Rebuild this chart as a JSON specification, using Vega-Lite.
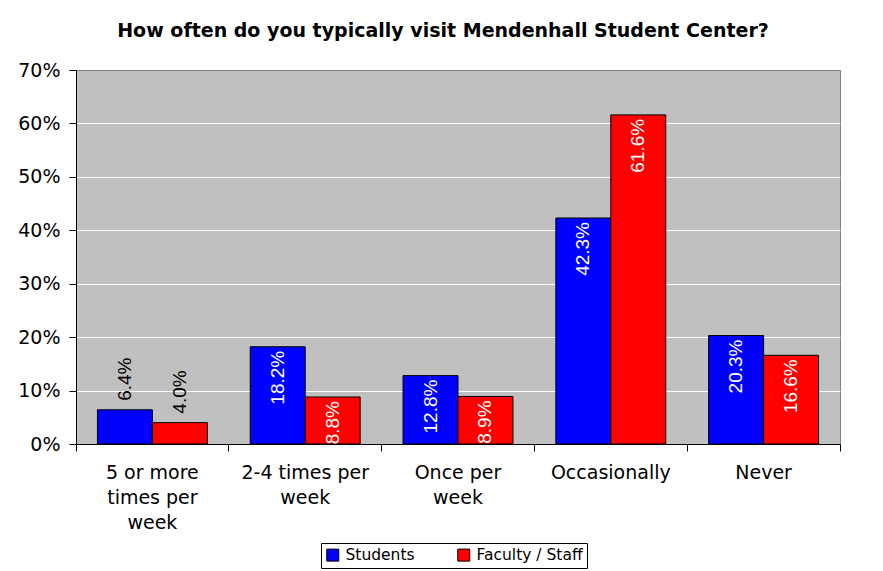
{
  "$schema": "https://vega.github.io/schema/vega-lite/v6.json",
  "width": 764,
  "height": 374,
  "autosize": {"type": "none"},
  "padding": {"left": 76, "top": 70, "right": 43, "bottom": 127},
  "background": "white",
  "title": {
    "text": "How often do you typically visit Mendenhall Student Center?",
    "fontSize": 19,
    "fontWeight": "bold",
    "font": "DejaVu Sans",
    "color": "black",
    "offset": 20,
    "dx": -15
  },
  "data": {
    "values": [
      {"frequency": "5 or more times per week", "group": "Students", "share": 0.064},
      {"frequency": "5 or more times per week", "group": "Faculty / Staff", "share": 0.040},
      {"frequency": "2-4 times per week", "group": "Students", "share": 0.182},
      {"frequency": "2-4 times per week", "group": "Faculty / Staff", "share": 0.088},
      {"frequency": "Once per week", "group": "Students", "share": 0.128},
      {"frequency": "Once per week", "group": "Faculty / Staff", "share": 0.089},
      {"frequency": "Occasionally", "group": "Students", "share": 0.423},
      {"frequency": "Occasionally", "group": "Faculty / Staff", "share": 0.616},
      {"frequency": "Never", "group": "Students", "share": 0.203},
      {"frequency": "Never", "group": "Faculty / Staff", "share": 0.166}
    ]
  },
  "encoding": {
    "x": {
      "field": "frequency",
      "type": "nominal",
      "sort": null,
      "scale": {"paddingInner": 0, "paddingOuter": 0},
      "axis": {
        "title": null,
        "bandPosition": 1,
        "tickExtra": true,
        "ticks": true,
        "tickSize": 7,
        "tickColor": "black",
        "domainColor": "black",
        "labelPadding": 12,
        "labelFontSize": 19,
        "labelFont": "DejaVu Sans",
        "labelColor": "black",
        "labelAngle": 0,
        "labelAlign": "center",
        "labelBaseline": "top",
        "labelLineHeight": 25,
        "labelBound": false,
        "labelOverlap": false,
        "labelFlush": false,
        "labelLimit": 300,
        "labelExpr": "datum.value == '5 or more times per week' ? ['5 or more', 'times per', 'week'] : datum.value == '2-4 times per week' ? ['2-4 times per', 'week'] : datum.value == 'Once per week' ? ['Once per', 'week'] : datum.label"
      }
    },
    "xOffset": {
      "field": "group",
      "type": "nominal",
      "sort": ["Students", "Faculty / Staff"],
      "scale": {"paddingInner": 0, "paddingOuter": 0.39}
    },
    "y": {
      "field": "share",
      "type": "quantitative",
      "scale": {"domain": [0, 0.7], "nice": false},
      "axis": {
        "title": null,
        "format": ".0%",
        "values": [0, 0.1, 0.2, 0.3, 0.4, 0.5, 0.6, 0.7],
        "grid": true,
        "gridColor": {"condition": {"test": "datum.value >= 0.69", "value": "#808080"}, "value": "white"},
        "gridWidth": 1,
        "gridOpacity": 1,
        "domainColor": "black",
        "tickColor": "black",
        "tickSize": 7,
        "labelPadding": 9,
        "labelFontSize": 19,
        "labelFont": "DejaVu Sans",
        "labelColor": "black"
      }
    }
  },
  "layer": [
    {
      "mark": {"type": "bar", "stroke": "black", "strokeWidth": 1},
      "encoding": {
        "color": {
          "field": "group",
          "type": "nominal",
          "scale": {"domain": ["Students", "Faculty / Staff"], "range": ["#0000FF", "#FF0000"]},
          "legend": {
            "title": null,
            "orient": "none",
            "legendX": 245,
            "legendY": 473,
            "direction": "horizontal",
            "strokeColor": "black",
            "fillColor": "white",
            "padding": 4,
            "columnPadding": 40,
            "labelOffset": 5,
            "symbolType": "square",
            "symbolSize": 144,
            "symbolStrokeColor": "black",
            "symbolStrokeWidth": 1,
            "labelFont": "DejaVu Sans",
            "labelFontSize": 15.5,
            "labelColor": "black"
          }
        }
      }
    },
    {
      "transform": [{"filter": "datum.share > 0.08"}],
      "mark": {"type": "text", "angle": 270, "align": "right", "baseline": "middle", "dx": -4, "color": "white", "fontSize": 19, "font": "Liberation Sans"},
      "encoding": {"text": {"field": "share", "type": "quantitative", "format": ".1%"}}
    },
    {
      "transform": [{"filter": "datum.share <= 0.08"}],
      "mark": {"type": "text", "angle": 270, "align": "left", "baseline": "middle", "dx": 9, "color": "black", "fontSize": 19, "font": "Liberation Sans"},
      "encoding": {"text": {"field": "share", "type": "quantitative", "format": ".1%"}}
    }
  ],
  "config": {
    "font": "DejaVu Sans",
    "view": {"fill": "#C0C0C0", "stroke": "#808080", "strokeWidth": 1}
  }
}
